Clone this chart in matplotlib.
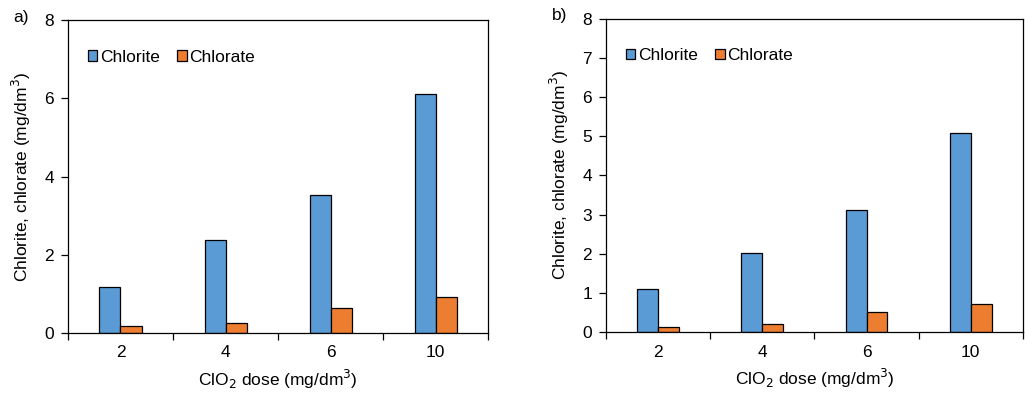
import matplotlib

matplotlib.use("Agg")
import matplotlib.pyplot as plt
import numpy as np

plt.rcParams["font.family"] = ["Liberation Sans", "DejaVu Sans"]
plt.rcParams["font.size"] = 12.5

doses = ["2", "4", "6", "10"]
chlorite_a = [1.17, 2.37, 3.54, 6.12]
chlorate_a = [0.18, 0.25, 0.63, 0.93]
chlorite_b = [1.10, 2.02, 3.11, 5.08]
chlorate_b = [0.14, 0.20, 0.51, 0.72]

BLUE = "#5B9BD5"
ORANGE = "#ED7D31"


def _panel(ax, chlorite, chlorate, yticks, tag):
    x = np.arange(len(doses))
    w = 0.2
    ax.bar(x - w / 2, chlorite, w, color=BLUE, edgecolor="black", lw=0.9, label="Chlorite")
    ax.bar(x + w / 2, chlorate, w, color=ORANGE, edgecolor="black", lw=0.9, label="Chlorate")
    ax.set_xlim(-0.5, len(doses) - 0.5)
    ax.set_ylim(0, 8)
    ax.set_yticks(yticks)
    # category labels centred, tick marks on the boundaries
    ax.set_xticks(x)
    ax.set_xticklabels(doses)
    ax.tick_params(axis="x", length=0, pad=9)
    ax.set_xticks(np.arange(len(doses) + 1) - 0.5, minor=True)
    ax.tick_params(axis="x", which="minor", length=5, direction="out", width=0.9)
    ax.tick_params(axis="y", length=5, direction="out", width=0.9, pad=5)
    for s in ax.spines.values():
        s.set_linewidth(0.9)
    ax.set_xlabel("ClO$_2$ dose (mg/dm$^3$)", labelpad=5)
    ax.set_ylabel("Chlorite, chlorate (mg/dm$^3$)", labelpad=8)
    ax.legend(loc="upper left", bbox_to_anchor=(0.01, 0.955), ncol=2, frameon=False,
              handlelength=0.55, handleheight=0.55, handletextpad=0.15, columnspacing=1.0)
    ax.text(-0.13, 1.01, tag, transform=ax.transAxes, ha="left", va="center")


fig = plt.figure(figsize=(10.25, 3.95), dpi=100)
ax_a = fig.add_axes([0.0663, 0.157, 0.410, 0.792])
ax_b = fig.add_axes([0.591, 0.159, 0.407, 0.794])
_panel(ax_a, chlorite_a, chlorate_a, [0, 2, 4, 6, 8], "a)")
_panel(ax_b, chlorite_b, chlorate_b, range(9), "b)")
fig.savefig("out.png", dpi=100)
